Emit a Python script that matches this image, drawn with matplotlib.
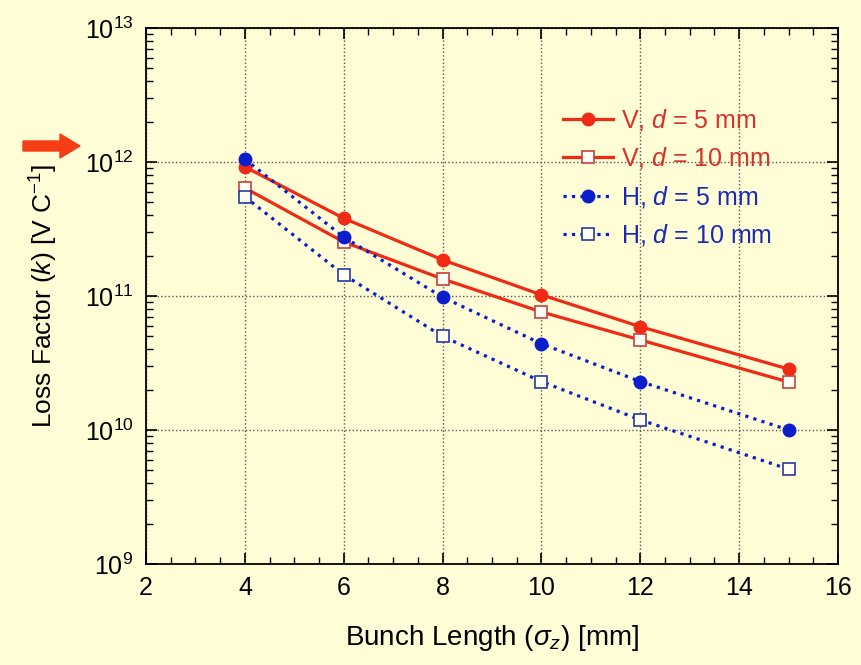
import numpy as np
import matplotlib
matplotlib.use('Agg')
import matplotlib.pyplot as plt
from matplotlib.patches import FancyArrow
from matplotlib.transforms import IdentityTransform
from matplotlib.ticker import FixedLocator, MultipleLocator, FuncFormatter

plt.rcParams['font.family'] = ['Liberation Sans', 'DejaVu Sans']
plt.rcParams['mathtext.fontset'] = 'custom'
plt.rcParams['mathtext.rm'] = 'Liberation Sans'
plt.rcParams['mathtext.it'] = 'Liberation Sans:italic'

# bunch length sigma_z [mm]
sigma_z = [4, 6, 8, 10, 12, 15]

# loss factor [V/C]
v_d5 = [9.2e11, 3.8e11, 1.86e11, 1.02e11, 5.9e10, 2.85e10]
v_d10 = [6.4e11, 2.53e11, 1.34e11, 7.6e10, 4.7e10, 2.28e10]
h_d5 = [1.05e12, 2.75e11, 9.8e10, 4.4e10, 2.3e10, 1.0e10]
h_d10 = [5.5e11, 1.44e11, 5.0e10, 2.3e10, 1.19e10, 5.1e9]

labels = ['V, $\\it{d}$ = 5 mm', 'V, $\\it{d}$ = 10 mm',
          'H, $\\it{d}$ = 5 mm', 'H, $\\it{d}$ = 10 mm']

bg = '#fffdd6'
red = '#f02a14'
blue = '#0a1ecc'

fig = plt.figure(figsize=(8.61, 6.65), dpi=100, facecolor=bg)
ax = fig.add_axes([0.1696, 0.1519, 0.8037, 0.806])
ax.set_facecolor(bg)

ax.plot(sigma_z, v_d5, '-', color=red, lw=2.3, marker='o', ms=9,
        mfc=red, mec=red, label=labels[0])
ax.plot(sigma_z, v_d10, '-', color=red, lw=2.3, marker='s', ms=9,
        mfc='#fffff4', mec='#c84040', mew=1.2, label=labels[1])
ax.plot(sigma_z, h_d5, ':', color=blue, lw=2.3, marker='o', ms=9,
        mfc=blue, mec=blue, label=labels[2])
ax.plot(sigma_z, h_d10, ':', color=blue, lw=2.3, marker='s', ms=9,
        mfc='#fffff4', mec='#2838a0', mew=1.2, label=labels[3])

ax.set_yscale('log')
ax.set_xlim(2, 16)
ax.set_ylim(1e9, 1e13)
ax.xaxis.set_major_locator(MultipleLocator(2))
ax.xaxis.set_minor_locator(MultipleLocator(0.5))
ax.yaxis.set_major_locator(FixedLocator([1e9, 1e10, 1e11, 1e12, 1e13]))
ax.yaxis.set_major_formatter(FuncFormatter(
    lambda v, p: '10$^{\\mathregular{%d}}$' % round(np.log10(v))))

ax.tick_params(which='both', direction='in', top=True, right=True,
               colors='black', labelsize=18)
ax.tick_params(which='major', length=8, width=1.2, pad=9)
ax.tick_params(which='minor', length=5, width=1.0)
ax.grid(True, which='major', linestyle=':', color='#555555', lw=1.0)
for s in ax.spines.values():
    s.set_linewidth(1.3)

ax.set_xlabel('Bunch Length ($\\sigma_z$) [mm]', fontsize=20, labelpad=16)
ax.set_ylabel('Loss Factor ($\\it{k}$) [V C$^{-1}$]', fontsize=19, labelpad=18)

leg = ax.legend(loc='upper right', bbox_to_anchor=(0.937, 0.895), frameon=False,
                fontsize=18, handlelength=2.0, handletextpad=0.3,
                labelspacing=0.5)
for t, c in zip(leg.get_texts(), ['#d8302a', '#d8302a', '#1a2ab4', '#1a2ab4']):
    t.set_color(c)

# red arrow pointing at 10^12
fig.add_artist(FancyArrow(23, 519, 57, 0, width=10, head_width=24,
                          head_length=20, length_includes_head=True,
                          color='#f53c14', transform=IdentityTransform()))

fig.savefig('out.png', dpi=100, facecolor=bg)
